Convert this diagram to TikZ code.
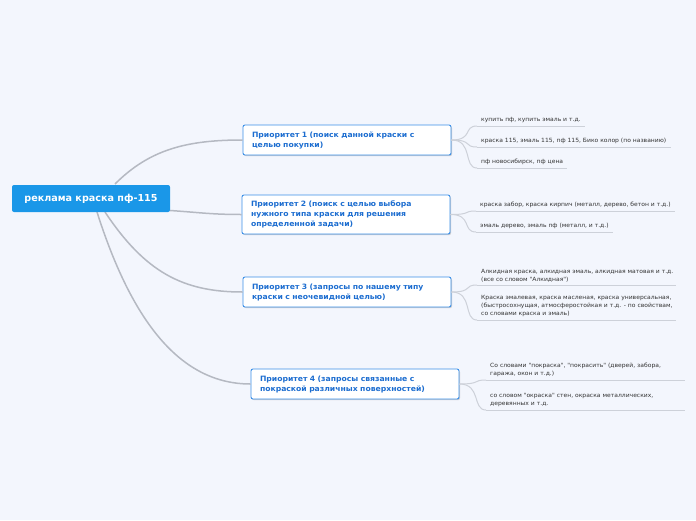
\documentclass[tikz,border=0pt]{standalone}
\usepackage{fontspec}
\setmainfont{DejaVu Sans}
\newfontfamily\wideface[FakeStretch=1.05]{DejaVu Sans}
\usetikzlibrary{shadows}
\definecolor{bg}{HTML}{F3F6FD}
\definecolor{rootfill}{HTML}{1A97E8}
\definecolor{pborder}{HTML}{3B8FE8}
\definecolor{ptext}{HTML}{1C6DD0}
\definecolor{leaftext}{HTML}{333333}
\definecolor{mainline}{HTML}{B5B9C2}
\definecolor{leafline}{HTML}{CDD1D9}
\tikzset{
  rootbox/.style={fill=rootfill, text=white, rounded corners=2pt, font=\fontsize{9.6}{11}\selectfont\bfseries, minimum width=158pt, minimum height=27pt, inner sep=0pt},
  pbox/.style={draw=pborder, fill=white, rounded corners=2pt, line width=0.9pt, text=ptext, font=\wideface\fontsize{7.3}{10}\selectfont\bfseries, align=left, text width=190pt, minimum height=30pt, inner xsep=9pt, inner ysep=3pt, drop shadow={shadow xshift=1pt, shadow yshift=-1.2pt, opacity=0.35}},
  leaf/.style={font=\wideface\fontsize{5.75}{8}\selectfont, text=leaftext, align=left, inner xsep=4pt, inner ysep=3pt, anchor=south west},
  mainedge/.style={draw=mainline, line width=1.5pt},
  leafedge/.style={draw=leafline, line width=1pt},
  uline/.style={draw=leafline, line width=1pt}
}
\begin{document}
\begin{tikzpicture}[x=1pt,y=-1pt]
\fill[bg] (0,0) rectangle (696,520);
\useasboundingbox (0,0) rectangle (696,520);

\coordinate (r1) at (115,184);
\coordinate (r2) at (170,210.5);
\coordinate (r3) at (105,212);
\coordinate (r4) at (97,212);

\node[pbox] (p1) at (347,140) {Приоритет 1 (поиск данной краски с\\целью покупки)};
\node[pbox, minimum height=39pt] (p2) at (346,214.5) {Приоритет 2 (поиск с целью выбора\\нужного типа краски для решения\\определенной задачи)};
\node[pbox] (p3) at (347,292) {Приоритет 3 (запросы по нашему типу\\краски с неочевидной целью)};
\node[pbox] (p4) at (355,384) {Приоритет 4 (запросы связанные с\\покраской различных поверхностей)};

\draw[mainedge] (r1) .. controls +(35,-35) and +(-55,0) .. (p1.west);
\draw[mainedge] (r2) .. controls +(30,2) and +(-30,0) .. (p2.west);
\draw[mainedge] (r3) .. controls +(40,60) and +(-60,0) .. (p3.west);
\draw[mainedge] (r4) .. controls +(35,110) and +(-70,0) .. (p4.west);

\node[rootbox] (root) at (91,198.5) {реклама краска пф-115};

% Priority 1 leaves
\node[leaf] (l11) at (477,126) {купить пф, купить эмаль и т.д.};
\node[leaf] (l12) at (477,147) {краска 115, эмаль 115, пф 115, Бико колор (по названию)};
\node[leaf] (l13) at (477,168) {пф новосибирск, пф цена};
% Priority 2 leaves
\node[leaf] (l21) at (476,211) {краска забор, краска кирпич (металл, дерево, бетон и т.д.)};
\node[leaf] (l22) at (476,232) {эмаль дерево, эмаль пф (металл, и т.д.)};
% Priority 3 leaves
\node[leaf] (l31) at (477,285) {Алкидная краска, алкидная эмаль, алкидная матовая и т.д.\\(все со словом "Алкидная")};
\node[leaf] (l32) at (477,320) {Краска эмалевая, краска масленая, краска универсальная,\\(быстросохнущая, атмосферостойкая и т.д. - по свойствам,\\со словами краска и эмаль)};
% Priority 4 leaves
\node[leaf] (l41) at (486,380) {Со словами "покраска", "покрасить" (дверей, забора,\\гаража, окон и т.д.)};
\node[leaf] (l42) at (486,410) {со словом "окраска" стен, окраска металлических,\\деревянных и т.д.};

\foreach \l in {l11,l12,l13,l21,l22}{
  \draw[uline] (\l.south west) -- (\l.south east);
}
\foreach \l in {l31,l32,l41,l42}{
  \draw[uline] (\l.south west) -- ++(199,0);
}
\foreach \p/\l in {p1/l11,p1/l12,p1/l13,p2/l21,p2/l22,p3/l31,p3/l32,p4/l41,p4/l42}{
  \draw[leafedge] (\p.east) .. controls +(22,0) and +(-14,0) .. (\l.south west);
}
\end{tikzpicture}
\end{document}
